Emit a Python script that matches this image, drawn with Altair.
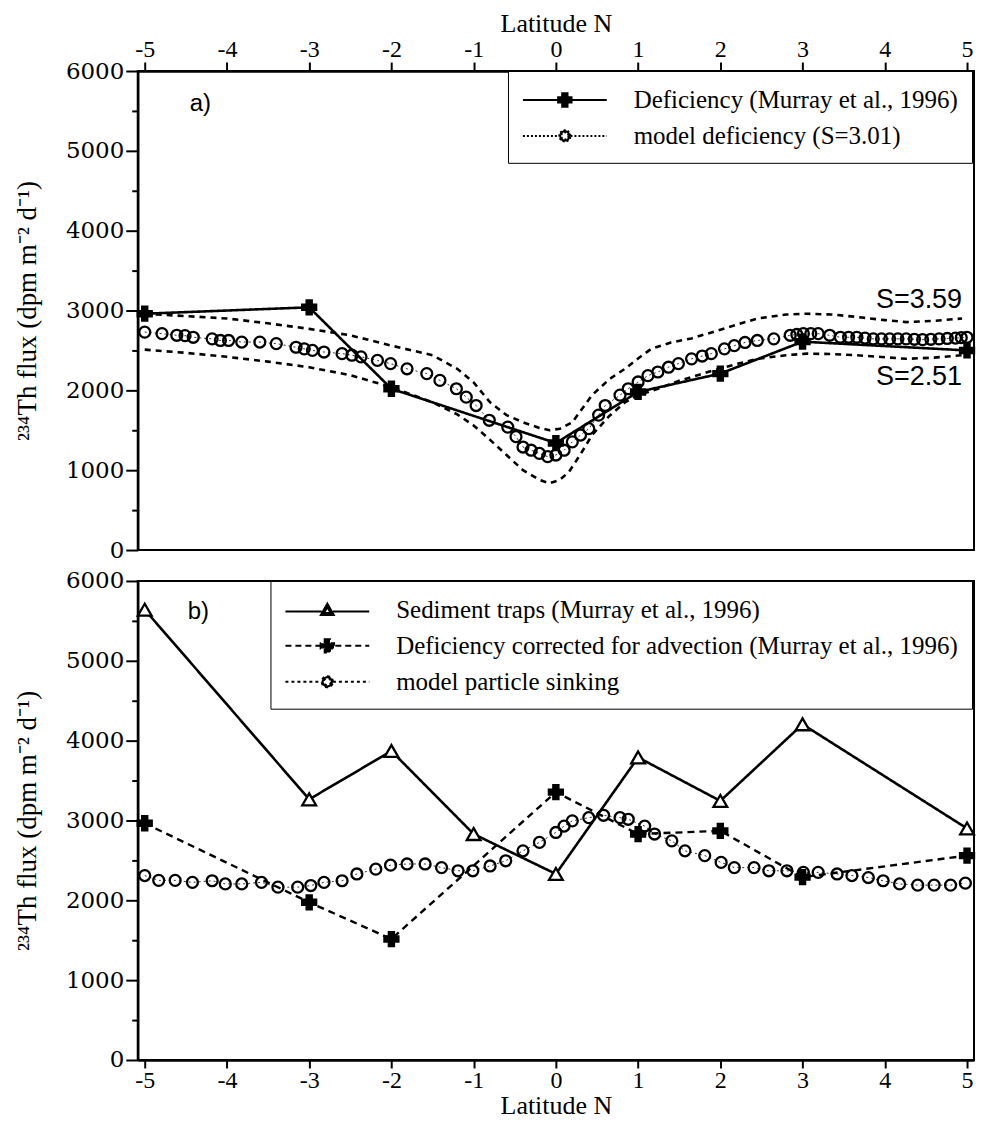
import altair as alt
import pandas as pd

# ---------------- data ----------------
lat_ticks = [-5, -4, -3, -2, -1, 0, 1, 2, 3, 4, 5]
flux_ticks = [0, 500, 1000, 1500, 2000, 2500, 3000, 3500, 4000, 4500, 5000, 5500, 6000]

# panel a
defic_lat = [-5, -3, -2, 0, 1, 2, 3, 5]
defic_flux = [2960, 3040, 2020, 1340, 1980, 2210, 2610, 2500]

model_a_lat = [-5.0, -4.79, -4.61, -4.51, -4.41, -4.18, -4.08, -3.98, -3.82, -3.6, -3.4,
               -3.16, -3.06, -2.96, -2.82, -2.6, -2.48, -2.37, -2.17, -2.01, -1.81, -1.57,
               -1.41, -1.21, -1.09, -0.97, -0.81, -0.585, -0.485, -0.4, -0.3, -0.2, -0.1,
               0.0, 0.1, 0.2, 0.3, 0.4, 0.52, 0.6, 0.78, 0.88, 1.0, 1.12, 1.24, 1.37, 1.49,
               1.65, 1.78, 1.89, 2.05, 2.17, 2.3, 2.45, 2.65, 2.85, 2.93, 3.01, 3.1, 3.19,
               3.33, 3.46, 3.56, 3.66, 3.76, 3.86, 3.96, 4.06, 4.16, 4.26, 4.36, 4.46, 4.56,
               4.66, 4.76, 4.86, 4.93, 5.0]
model_a_flux = [2730, 2710, 2690, 2685, 2665, 2645, 2625, 2625, 2605, 2605, 2585,
                2540, 2520, 2500, 2480, 2460, 2440, 2420, 2375, 2335, 2270, 2210,
                2125, 2020, 1915, 1810, 1625, 1540, 1420, 1290, 1250, 1210, 1170,
                1190, 1250, 1355, 1440, 1520, 1690, 1810, 1940, 2020, 2105, 2185, 2230, 2290, 2335,
                2395, 2430, 2460, 2520, 2560, 2600, 2625, 2645, 2690, 2700, 2710, 2710, 2710,
                2690, 2665, 2665, 2665, 2655, 2645, 2645, 2645, 2645, 2645, 2640, 2635, 2640,
                2645, 2650, 2655, 2660, 2665]

s359_lat = [-5.0, -4.5, -4.0, -3.5, -3.0, -2.5, -2.0, -1.5, -1.2, -1.0, -0.8, -0.6, -0.4,
            -0.2, -0.08, 0.05, 0.2, 0.44, 0.65, 0.84, 1.0, 1.16, 1.4, 1.65, 2.0, 2.45, 2.8,
            3.05, 3.35, 3.66, 4.0, 4.26, 4.6, 4.94]
s359_flux = [2960, 2930, 2900, 2840, 2770, 2690, 2560, 2440, 2270, 2100, 1850, 1690, 1600,
             1530, 1500, 1520, 1600, 1940, 2140, 2270, 2400, 2520, 2600, 2650, 2760, 2900, 2950,
             2960, 2950, 2920, 2880, 2855, 2870, 2900]

s251_lat = [-5.0, -4.5, -4.0, -3.5, -3.0, -2.5, -2.0, -1.5, -1.2, -1.0, -0.8, -0.6, -0.4,
            -0.2, -0.08, 0.05, 0.16, 0.3, 0.44, 0.65, 0.84, 1.0, 1.24, 1.5, 1.85, 2.2, 2.45,
            2.8, 3.05, 3.35, 3.66, 4.0, 4.26, 4.6, 4.94]
s251_flux = [2510, 2470, 2420, 2360, 2290, 2190, 2040, 1850, 1700, 1560, 1380, 1190, 1000,
             880, 835, 880, 980, 1200, 1440, 1680, 1850, 1940, 2020, 2120, 2230, 2330, 2395,
             2440, 2460, 2455, 2440, 2415, 2395, 2410, 2440]

# panel b
traps_lat = [-5, -3, -2, -1, 0, 1, 2, 3, 5]
traps_flux = [5640, 3265, 3870, 2830, 2330, 3790, 3245, 4205, 2900]

corr_lat = [-5, -3, -2, 0, 1, 2, 3, 5]
corr_flux = [2965, 1975, 1515, 3355, 2830, 2870, 2290, 2560]

sink_lat = [-5.0, -4.83, -4.63, -4.42, -4.18, -4.02, -3.82, -3.58, -3.38, -3.14, -2.98,
            -2.82, -2.6, -2.42, -2.19, -2.01, -1.81, -1.59, -1.39, -1.19, -1.01, -0.8,
            -0.61, -0.4, -0.2, 0.0, 0.1, 0.2, 0.4, 0.58, 0.78, 0.88, 1.08, 1.2, 1.41, 1.57,
            1.81, 2.01, 2.17, 2.41, 2.59, 2.81, 3.01, 3.19, 3.42, 3.6, 3.8, 3.98, 4.18, 4.4,
            4.6, 4.8, 4.98]
sink_flux = [2310, 2250, 2250, 2225, 2245, 2205, 2205, 2225, 2165, 2165, 2185,
             2225, 2245, 2330, 2390, 2440, 2455, 2455, 2410, 2370, 2370, 2430,
             2495, 2620, 2725, 2850, 2930, 2995, 3035, 3065, 3035, 3015, 2930, 2830, 2745, 2620,
             2560, 2475, 2410, 2410, 2370, 2370, 2350, 2350, 2330, 2310, 2285, 2245, 2205, 2190,
             2190, 2190, 2215]

legend_a_names = ["Deficiency (Murray et al., 1996)", "model  deficiency (S=3.01)"]
legend_b_names = ["Sediment traps (Murray et al., 1996)",
                  "Deficiency corrected for advection (Murray et al., 1996)",
                  "model particle sinking"]

s_label_text = ["S=3.59", "S=2.51"]
s_label_lat = [4.94, 4.94]
s_label_flux = [3130, 2165]

panel_labels = ["a)", "b)"]

# ---------------- styling ----------------
SERIF = "Liberation Serif"
SANS = "Liberation Sans"
W, H = 838, 480
XDOM = [-5.085, 5.085]


def frame(lat, flux):
    return pd.DataFrame({"lat": lat, "flux": flux})


def x_enc(orient):
    top = orient == "top"
    return alt.X(
        "lat:Q",
        scale=alt.Scale(domain=XDOM, nice=False, zero=False),
        axis=alt.Axis(
            orient=orient, values=lat_ticks, title="Latitude N",
            labelExpr="'' + datum.value",
            tickSize=9 if top else 8, labelPadding=1 if top else 1,
            titlePadding=1 if top else 0,
        ),
    )


y_axis = alt.Axis(
    values=flux_ticks, title="²³⁴Th flux (dpm m⁻² d⁻¹)",
    labelExpr="datum.value % 1000 === 0 ? '' + datum.value : ''",
    tickSize={"condition": {"test": "datum.value % 1000 === 0", "value": 12}, "value": 6},
    labelPadding=2, titlePadding=24,
)


def y_enc():
    return alt.Y("flux:Q", scale=alt.Scale(domain=[0, 6000], nice=False, zero=True), axis=y_axis)


# custom legend symbols (line + marker); unit = sqrt(size)/2 px, line spans x -1..5, marker at x=2
P_CROSS = "M-1,0H5 M1.81,-0.48H2.19V-0.19H2.48V0.19H2.19V0.48H1.81V0.19H1.52V-0.19H1.81Z"
P_CIRCLE = ("M-1,0H1.6 M2.4,0H5 "
            "M2.4,0A0.4,0.4 0 1 0 1.6,0A0.4,0.4 0 1 0 2.4,0Z "
            "M2.26,0A0.26,0.26 0 1 1 1.74,0A0.26,0.26 0 1 1 2.26,0Z")
P_TRI = ("M-1,0.12H1.6 M2.4,0.12H5 "
         "M2,-0.45L2.46,0.36L1.54,0.36Z M2,-0.2L1.76,0.22L2.24,0.22Z")
LEG_SIZE = 784


def legend_layer(names, paths, dashes, lx, ly, pad, rowpad):
    n = len(names)
    leg = alt.Legend(
        orient="none", legendX=lx, legendY=ly, title=None, labelFont=SERIF,
        labelFontSize=25, labelColor="black", labelLimit=900, labelOffset=82,
        symbolSize=LEG_SIZE, symbolStrokeWidth=2, symbolOpacity=1,
        strokeColor="black", padding=pad, rowPadding=rowpad, fillColor="white",
    )
    blacks = alt.Scale(domain=names, range=["black"] * n)
    return (
        alt.Chart(pd.DataFrame({"s": names}))
        .transform_filter("false")
        .mark_point(size=LEG_SIZE, strokeWidth=2, opacity=1, filled=True)
        .encode(
            shape=alt.Shape("s:N", scale=alt.Scale(domain=names, range=paths), legend=leg),
            strokeDash=alt.StrokeDash("s:N", scale=alt.Scale(domain=names, range=dashes), legend=leg),
            fill=alt.Fill("s:N", scale=blacks, legend=leg),
            stroke=alt.Stroke("s:N", scale=blacks, legend=leg),
        )
    )


def line(lat, flux, dash, width, xe):
    return alt.Chart(frame(lat, flux)).mark_line(
        color="black", strokeWidth=width, strokeDash=dash
    ).encode(x=xe, y=y_enc())


def points(lat, flux, shape, size, fill, xe, sw=2.3):
    return alt.Chart(frame(lat, flux)).mark_point(
        shape=shape, size=size, filled=False, fill=fill, stroke="black",
        strokeWidth=sw, opacity=1, fillOpacity=0 if fill == "transparent" else 1
    ).encode(x=xe, y=y_enc())


def text_layer(text, size):
    return alt.Chart(pd.DataFrame({"t": text})).mark_text(
        font=SANS, fontSize=size, align="left", baseline="middle", color="black")


# ---------------- panel a ----------------
xa = x_enc("top")
panel_a = alt.layer(
    line(s359_lat, s359_flux, [6, 5], 2.6, xa),
    line(s251_lat, s251_flux, [6, 5], 2.6, xa),
    line(model_a_lat, model_a_flux, [2, 3], 0.8, xa),
    points(model_a_lat, model_a_flux, "circle", 120, "transparent", xa),
    line(defic_lat, defic_flux, [1, 0], 2.6, xa),
    points(defic_lat, defic_flux, "cross", 220, "black", xa, sw=1.5),
    alt.Chart(pd.DataFrame({"t": s_label_text, "lat": s_label_lat, "flux": s_label_flux}))
    .mark_text(font=SANS, fontSize=27, align="right", baseline="middle", color="black")
    .encode(x=xa, y=y_enc(), text="t:N"),
    text_layer(panel_labels[:1], 24).encode(x=alt.value(52), y=alt.value(33), text="t:N"),
    legend_layer(legend_a_names, [P_CROSS, P_CIRCLE], [[1, 0], [2, 2]], 371, 0, 14, 8),
).properties(width=W, height=H)

# ---------------- panel b ----------------
xb = x_enc("bottom")
panel_b = alt.layer(
    line(sink_lat, sink_flux, [2, 3], 0.8, xb),
    points(sink_lat, sink_flux, "circle", 120, "transparent", xb),
    line(corr_lat, corr_flux, [7, 5], 2.4, xb),
    points(corr_lat, corr_flux, "cross", 220, "black", xb, sw=1.5),
    line(traps_lat, traps_flux, [1, 0], 2.6, xb),
    points(traps_lat, traps_flux, "triangle-up", 190, "white", xb),
    text_layer(panel_labels[1:], 24).encode(x=alt.value(50), y=alt.value(31), text="t:N"),
    legend_layer(legend_b_names, [P_TRI, P_CROSS, P_CIRCLE], [[1, 0], [6, 4], [3, 3]], 133, 0, 14, 8),
).properties(width=W, height=H)

chart = (
    alt.vconcat(panel_a, panel_b, spacing=31, bounds="flush", background="white",
                padding={"left": 4, "top": 0, "right": 0, "bottom": 0})
    .resolve_scale(shape="independent", strokeDash="independent", fill="independent",
                   stroke="independent", x="independent", y="independent")
    .resolve_legend(shape="independent", strokeDash="independent", fill="independent",
                    stroke="independent")
    .configure_view(stroke="black", strokeWidth=2)
    .configure_axis(domainWidth=2.5, domainColor="black", tickColor="black", tickWidth=2,
                    labelColor="black", titleColor="black", grid=False,
                    titleFontWeight="normal")
    .configure_axisX(labelFont=SERIF, labelFontSize=24, titleFont=SERIF, titleFontSize=26)
    .configure_axisY(labelFont="DejaVu Serif", labelFontSize=23, titleFont=SERIF,
                     titleFontSize=27)
)

chart.save("out.html", embed_options={"renderer": "svg", "actions": False})
